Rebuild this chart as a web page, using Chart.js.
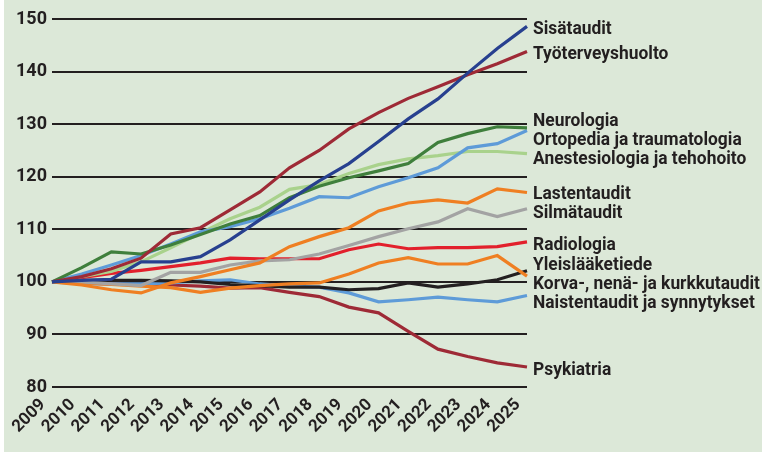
<!DOCTYPE html>
<html>
<head>
<meta charset="utf-8">
<script src="https://cdn.jsdelivr.net/npm/chart.js@4"></script>
<style>
  html, body { margin: 0; padding: 0; background: #ffffff; }
  #wrap { width: 762px; height: 452px; position: relative; }
</style>
</head>
<body>
<div id="wrap"><canvas id="chart" width="762" height="452"></canvas></div>
<script>
// Vuodet (x-akseli)
const years = ['2009', '2010', '2011', '2012', '2013', '2014', '2015', '2016', '2017',
               '2018', '2019', '2020', '2021', '2022', '2023', '2024', '2025'];

// Indeksi, 2009 = 100
const sisataudit       = [100, 100.3, 100.5, 103.8, 103.8, 104.8, 108.0, 111.8, 115.6, 119.2, 122.5, 126.7, 131.0, 134.8, 139.7, 144.4, 148.6];
const tyoterveys       = [100, 101.0, 102.5, 104.5, 109.1, 110.3, 113.7, 117.1, 121.7, 125.0, 129.1, 132.2, 134.9, 137.1, 139.4, 141.5, 143.8];
const neurologia       = [100, 102.7, 105.7, 105.3, 107.0, 109.0, 111.0, 112.6, 116.0, 118.2, 119.8, 121.1, 122.5, 126.5, 128.2, 129.5, 129.3];
const ortopedia        = [100, 101.5, 103.2, 105.0, 107.2, 109.5, 110.5, 112.0, 114.0, 116.2, 116.0, 118.1, 119.8, 121.7, 125.5, 126.3, 128.8];
const anestesiologia   = [100, 101.0, 102.0, 103.8, 106.5, 109.3, 112.0, 114.2, 117.6, 118.5, 120.6, 122.3, 123.4, 124.0, 124.8, 124.8, 124.4];
const lastentaudit     = [100, 99.4, 98.5, 97.9, 99.8, 101.0, 102.3, 103.6, 106.7, 108.6, 110.3, 113.5, 115.0, 115.6, 115.0, 117.7, 117.0];
const silmataudit      = [100, 100.0, 99.6, 99.3, 101.8, 101.8, 103.2, 104.0, 104.2, 105.3, 106.9, 108.6, 110.1, 111.4, 113.9, 112.4, 113.9];
const radiologia       = [100, 100.8, 101.6, 102.2, 102.9, 103.6, 104.5, 104.4, 104.4, 104.4, 106.1, 107.2, 106.3, 106.5, 106.5, 106.7, 107.6];
const yleislaaketiede  = [100, 99.8, 99.5, 99.2, 98.9, 98.0, 98.8, 99.3, 99.6, 99.8, 101.5, 103.6, 104.6, 103.4, 103.4, 105.0, 101.1];
const korva            = [100, 100.3, 100.3, 100.3, 100.2, 100.0, 99.5, 99.3, 99.0, 99.0, 98.5, 98.7, 99.8, 99.0, 99.6, 100.4, 102.1];
const naistentaudit    = [100, 99.6, 99.6, 99.6, 99.8, 100.2, 100.4, 99.6, 99.2, 99.0, 97.9, 96.2, 96.6, 97.1, 96.6, 96.2, 97.4];
const psykiatria       = [100, 99.8, 99.6, 99.4, 99.4, 99.2, 98.8, 98.9, 98.0, 97.2, 95.2, 94.1, 90.6, 87.2, 85.8, 84.6, 83.8];

const yTicks = [80, 90, 100, 110, 120, 130, 140, 150];

const FONT = "Roboto, 'Liberation Sans', sans-serif";
const TEXT = '#231f20';

// Sarjat siinä järjestyksessä kuin nimet ovat oikealla ylhäältä alas
const series = [
    { name: 'Sisätaudit', data: sisataudit, color: '#27408f' },
    { name: 'Työterveyshuolto', data: tyoterveys, color: '#9e2a36' },
    { name: 'Neurologia', data: neurologia, color: '#3f7f3c' },
    { name: 'Ortopedia ja traumatologia', data: ortopedia, color: '#5e9bd8' },
    { name: 'Anestesiologia ja tehohoito', data: anestesiologia, color: '#a9d28c' },
    { name: 'Lastentaudit', data: lastentaudit, color: '#ef7f22' },
    { name: 'Silmätaudit', data: silmataudit, color: '#a3a3a3' },
    { name: 'Radiologia', data: radiologia, color: '#e2202c' },
    { name: 'Yleislääketiede', data: yleislaaketiede, color: '#ef7f22' },
    { name: 'Korva-, nenä- ja kurkkutaudit', data: korva, color: '#231f20' },
    { name: 'Naistentaudit ja synnytykset', data: naistentaudit, color: '#5e9bd8' },
    { name: 'Psykiatria', data: psykiatria, color: '#9e2a36' }
];

// Taustaväri
const backgroundPlugin = {
    id: 'bg',
    beforeDraw(chart) {
        const ctx = chart.ctx;
        ctx.save();
        ctx.fillStyle = '#dce8d8';
        ctx.fillRect(4, 0, chart.width - 4, chart.height);
        ctx.restore();
    }
};

// Levittää nimet niin etteivät ne mene päällekkäin
function spreadLabels(ys, gap) {
    let groups = ys.map(y => ({ sum: y, n: 1, top: y }));
    let merged = true;
    while (merged) {
        merged = false;
        for (let i = 0; i < groups.length - 1; i++) {
            const a = groups[i], b = groups[i + 1];
            if (a.top + a.n * gap > b.top) {
                const sum = a.sum + b.sum, n = a.n + b.n;
                const top = sum / n - (n - 1) * gap / 2;
                groups.splice(i, 2, { sum, n, top });
                merged = true;
                break;
            }
        }
    }
    const out = [];
    groups.forEach(g => { for (let k = 0; k < g.n; k++) out.push(g.top + k * gap); });
    return out;
}

// Sarjojen nimet viivojen päihin (kapeutettu teksti, kuten alkuperäisessä)
const endLabelPlugin = {
    id: 'endLabels',
    afterDatasetsDraw(chart) {
        const ctx = chart.ctx;
        const y = chart.scales.y;
        const raw = series.map(s => y.getPixelForValue(s.data[s.data.length - 1]));
        const ys = spreadLabels(raw, 19);
        const x0 = chart.chartArea.right + 6;
        ctx.save();
        ctx.font = 'bold 19px ' + FONT;
        ctx.fillStyle = TEXT;
        ctx.textBaseline = 'middle';
        ctx.textAlign = 'left';
        // leveimmän nimen pitää mahtua kuvan reunaan asti
        const widest = Math.max(...series.map(s => ctx.measureText(s.name).width));
        const squeeze = Math.min(1, (chart.width - 2 - x0) / widest);
        series.forEach((s, i) => {
            ctx.save();
            ctx.translate(x0, ys[i] + 3);
            ctx.scale(squeeze, 1);
            ctx.fillText(s.name, 0, 0);
            ctx.restore();
        });
        ctx.restore();
    }
};

const ctx = document.getElementById('chart').getContext('2d');
new Chart(ctx, {
    type: 'line',
    data: {
        labels: years,
        datasets: series.map(s => ({
            label: s.name,
            data: s.data,
            borderColor: s.color,
            borderWidth: 3.2,
            pointRadius: 0,
            tension: 0,
            fill: false
        }))
    },
    options: {
        responsive: false,
        animation: false,
        layout: { padding: { left: 4, top: 19, right: 235, bottom: 0 } },
        plugins: {
            legend: { display: false },
            tooltip: { enabled: false }
        },
        scales: {
            x: {
                offset: false,
                grid: { display: false, drawTicks: false },
                border: { display: false },
                ticks: {
                    autoSkip: false,
                    maxRotation: 45,
                    minRotation: 45,
                    padding: 8,
                    labelOffset: -9,
                    color: TEXT,
                    font: { family: FONT, size: 17, weight: 'bold' }
                },
                afterFit(scale) { scale.height = 65; }
            },
            y: {
                min: 80,
                max: 150,
                afterBuildTicks(scale) { scale.ticks = yTicks.map(v => ({ value: v })); },
                grid: { color: TEXT, lineWidth: 2, drawTicks: false },
                border: { display: false },
                ticks: {
                    padding: 5,
                    color: TEXT,
                    font: { family: FONT, size: 18, weight: 'bold' }
                },
                afterFit(scale) { scale.width = 48; }
            }
        }
    },
    plugins: [backgroundPlugin, endLabelPlugin]
});
</script>
</body>
</html>
